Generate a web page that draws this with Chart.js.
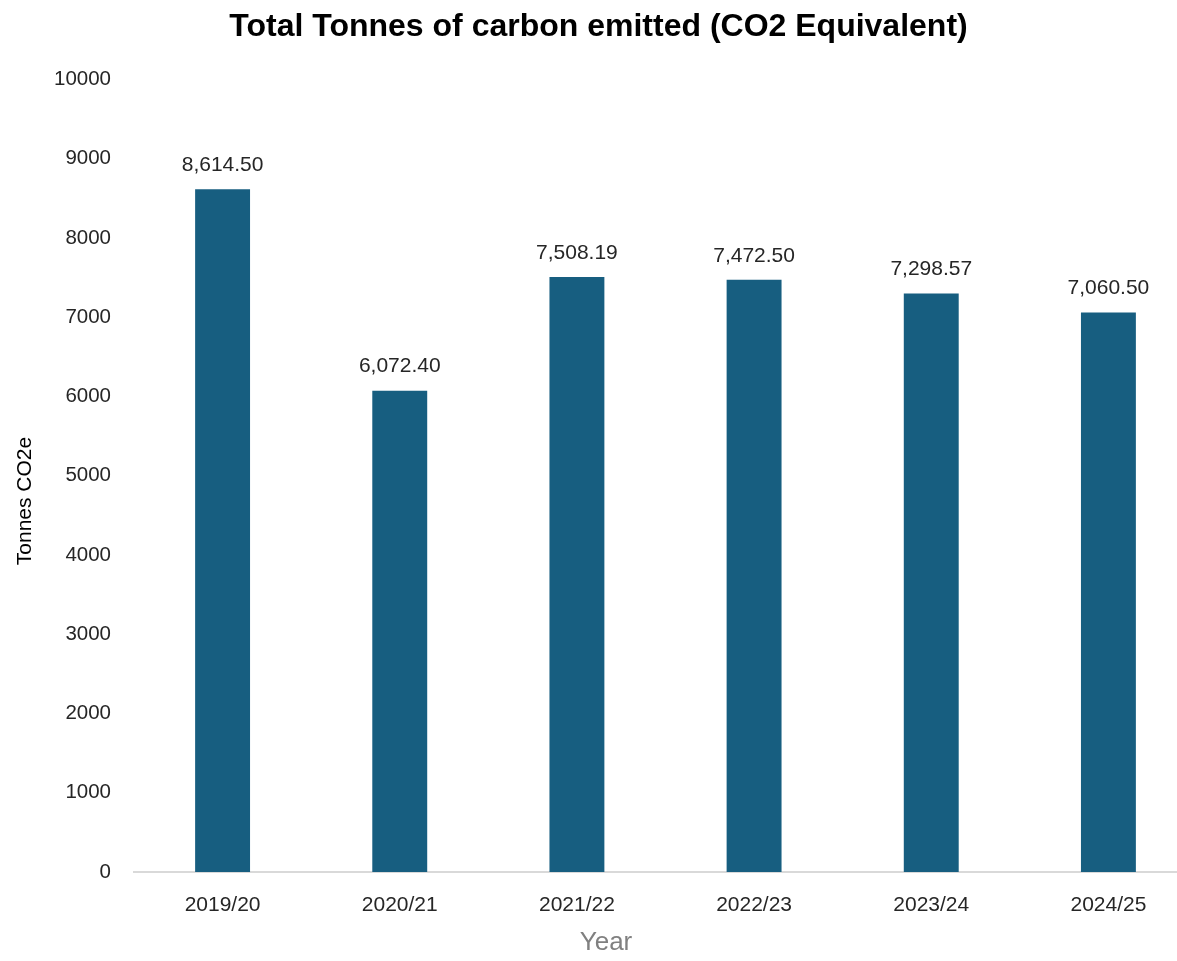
<!DOCTYPE html>
<html>
<head>
<meta charset="utf-8">
<script src="https://cdn.jsdelivr.net/npm/chart.js@4/dist/chart.umd.min.js"></script>
<style>
html,body{margin:0;padding:0;background:#fff;overflow:hidden;}
#wrap{width:1200px;height:961px;position:relative;}
</style>
</head>
<body>
<div id="wrap"><canvas id="c" width="1200" height="961"></canvas></div>
<script>
const categories = ["2019/20","2020/21","2021/22","2022/23","2023/24","2024/25"];
const emissions = [8614.50, 6072.40, 7508.19, 7472.50, 7298.57, 7060.50];
const yTicks = [0,1000,2000,3000,4000,5000,6000,7000,8000,9000,10000];
const yAxisTitle = 'Tonnes CO2e';
const xAxisTitle = 'Year';

const FONT = '"Liberation Sans", Arial, sans-serif';

const labelPlugin = {
  id: 'barLabels',
  afterDatasetsDraw(chart) {
    const ctx = chart.ctx;
    const meta = chart.getDatasetMeta(0);
    ctx.save();
    ctx.font = '21px ' + FONT;
    ctx.fillStyle = '#262626';
    ctx.textAlign = 'center';
    ctx.textBaseline = 'middle';
    meta.data.forEach((bar, i) => {
      const v = chart.data.datasets[0].data[i];
      const txt = v.toLocaleString('en-US',{minimumFractionDigits:2,maximumFractionDigits:2});
      ctx.fillText(txt, bar.x, bar.y - 24);
    });
    ctx.restore();
  },
  afterDraw(chart) {
    const ctx = chart.ctx;
    ctx.save();
    ctx.textAlign = 'center';
    ctx.textBaseline = 'middle';
    ctx.font = '21px ' + FONT;
    ctx.fillStyle = '#000';
    ctx.translate(25, 501);
    ctx.rotate(-Math.PI / 2);
    ctx.fillText(yAxisTitle, 0, 0);
    ctx.restore();
    ctx.save();
    ctx.textAlign = 'center';
    ctx.textBaseline = 'middle';
    ctx.font = '26px ' + FONT;
    ctx.fillStyle = '#808080';
    ctx.fillText(xAxisTitle, 606, 943);
    ctx.restore();
  }
};

new Chart(document.getElementById('c'), {
  type: 'bar',
  data: {
    labels: categories,
    datasets: [{
      data: emissions,
      backgroundColor: '#175E80',
      barPercentage: 0.31,
      categoryPercentage: 1.0
    }]
  },
  options: {
    responsive: false,
    animation: false,
    devicePixelRatio: 1,
    layout: { padding: { top: 0, right: 3, left: 0, bottom: 0 } },
    plugins: {
      legend: { display: false },
      tooltip: { enabled: false },
      title: {
        display: true,
        text: 'Total Tonnes of carbon emitted (CO2 Equivalent)',
        color: '#000',
        font: { family: FONT, size: 32, weight: 'bold', lineHeight: 1.2 },
        padding: { top: 8, bottom: 33 }
      }
    },
    scales: {
      x: {
        grid: { display: false },
        border: { display: true, color: '#d9d9d9', width: 2 },
        ticks: { color: '#262626', font: { family: FONT, size: 21 }, padding: 13 },
        afterFit(s) { s.height = 89; }
      },
      y: {
        min: 0, max: 10000,
        grid: { display: false },
        border: { display: false },
        afterBuildTicks(s) { s.ticks = yTicks.map(v => ({ value: v })); },
        ticks: {
          color: '#262626',
          font: { family: FONT, size: 20.5 },
          padding: 15,
          callback: v => String(v)
        },
        afterFit(s) { s.width = 134; }
      }
    }
  },
  plugins: [labelPlugin]
});
</script>
</body>
</html>
